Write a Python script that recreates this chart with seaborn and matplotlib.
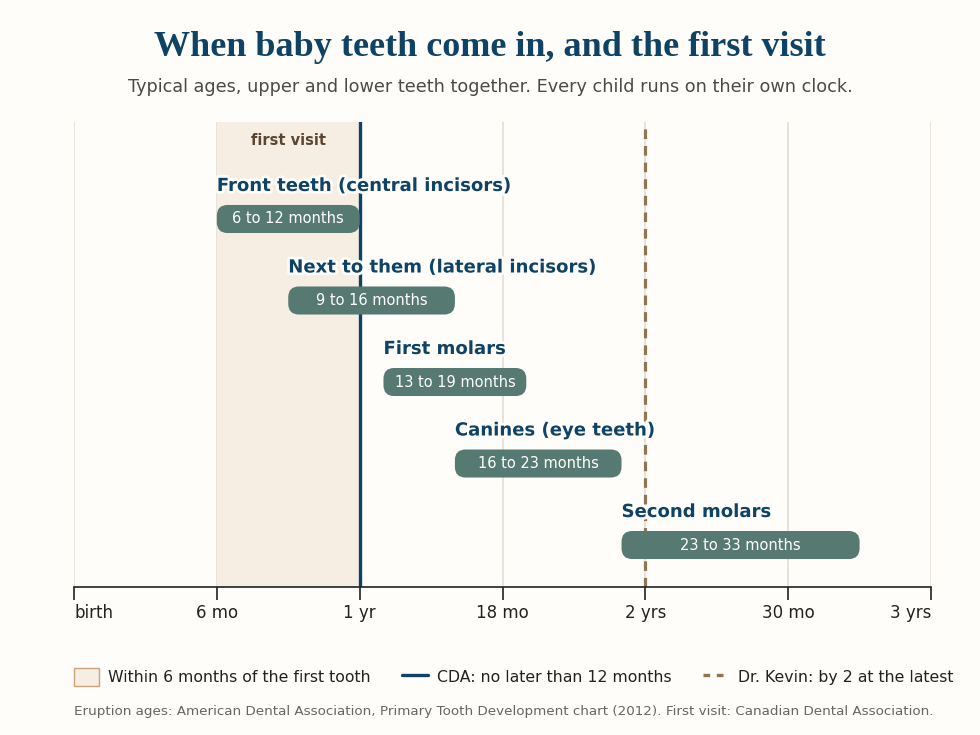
import numpy as np
import pandas as pd
import seaborn as sns
import matplotlib.pyplot as plt
from matplotlib.patches import FancyBboxPatch, Patch
from matplotlib.lines import Line2D
import matplotlib.patheffects as pe
import matplotlib.transforms as mtransforms

# data
teeth = ["Front teeth (central incisors)", "Next to them (lateral incisors)",
         "First molars", "Canines (eye teeth)", "Second molars"]
start_mo = [6, 9, 13, 16, 23]
end_mo = [12, 16, 19, 23, 33]
tick_mo = [0, 6, 12, 18, 24, 30, 36]
tick_labels = ["birth", "6 mo", "1 yr", "18 mo", "2 yrs", "30 mo", "3 yrs"]
visit_window = [6, 12]
cda_limit = 12
dentist_limit = 24

df = pd.DataFrame({"tooth": teeth, "start": start_mo, "end": end_mo})

BG = "#fefdf9"
NAVY = "#0f4366"
GREEN = "#567a71"
BAND = "#f6ede3"
BROWN = "#8f7552"
GRID = "#e6e0d6"

sns.set_theme(style="white")
plt.rcParams["font.family"] = ["DejaVu Sans"]

fig = plt.figure(figsize=(9.8, 7.35), dpi=100, facecolor=BG)
ax = fig.add_axes([74 / 980, 1 - 587 / 735, (931 - 74) / 980, (587 - 122) / 735])
ax.set_facecolor(BG)

ax.set_xlim(0, 36)
ax.set_ylim(4.515, -1.19)

# grid
for t in tick_mo:
    ax.axvline(t, color=GRID, lw=1.3, zorder=0)

ax.axvspan(visit_window[0], visit_window[1], color=BAND, zorder=0.5, lw=0)
ax.axvline(cda_limit, color=NAVY, lw=2.4, zorder=2)
ax.axvline(dentist_limit, color=BROWN, lw=2.3, ls=(0, (3, 2.2)), zorder=2)

trans = mtransforms.blended_transform_factory(ax.transData, ax.transAxes)
ax.text(np.mean(visit_window), 1 - 19 / 465, "first visit", transform=trans,
        ha="center", va="center", fontsize=10.5, fontweight="bold", color="#5a4632")

h = 0.344
halo = [pe.withStroke(linewidth=4, foreground=BG)]
for i, row in df.iterrows():
    box = FancyBboxPatch((row["start"], i - h / 2), row["end"] - row["start"], h,
                         boxstyle="round,pad=0,rounding_size=0.45",
                         mutation_aspect=0.292, facecolor=GREEN, edgecolor="none",
                         zorder=3)
    ax.add_patch(box)
    ax.text((row["start"] + row["end"]) / 2, i, f"{row['start']} to {row['end']} months",
            ha="center", va="center", color="white", fontsize=10.5, zorder=4)
    ax.text(row["start"], i - 0.405, row["tooth"], ha="left", va="center",
            fontsize=13, fontweight="bold", color=NAVY, zorder=5, path_effects=halo)

ax.set_xticks(tick_mo)
ax.set_xticklabels(tick_labels, fontsize=12, color="#222222")
tl = ax.get_xticklabels()
tl[0].set_ha("left")
tl[-1].set_ha("right")
ax.set_yticks([])
for s in ["top", "left", "right"]:
    ax.spines[s].set_visible(False)
ax.spines["bottom"].set_color("#222222")
ax.spines["bottom"].set_linewidth(1.2)
ax.tick_params(axis="x", bottom=True, length=9, width=1.2, color="#222222", pad=3)

fig.text(0.5, 1 - 48 / 735, "When baby teeth come in, and the first visit",
         ha="center", va="center", fontsize=26, fontweight="bold", color=NAVY,
         family="Liberation Serif")
fig.text(0.5, 1 - 87 / 735,
         "Typical ages, upper and lower teeth together. Every child runs on their own clock.",
         ha="center", va="center", fontsize=12.7, color="#4a4a4a")

handles = [Patch(facecolor=BAND, edgecolor="#c9a57f", lw=1),
           Line2D([], [], color=NAVY, lw=2.4),
           Line2D([], [], color=BROWN, lw=2.4, ls=(0, (2, 2)))]
labels = ["Within 6 months of the first tooth", "CDA: no later than 12 months",
          "Dr. Kevin: by 2 at the latest"]
fig.legend(handles, labels, loc="center", bbox_to_anchor=(513.5 / 980, 1 - 677 / 735), ncol=3,
           frameon=False, fontsize=11.3, handlelength=1.6, handleheight=1.4,
           columnspacing=2.0, handletextpad=0.6, labelcolor="#222222")

fig.text(74 / 980, 1 - 711 / 735,
         "Eruption ages: American Dental Association, Primary Tooth Development chart (2012). "
         "First visit: Canadian Dental Association.",
         ha="left", va="center", fontsize=9.7, color="#666666")

fig.savefig("out.png", dpi=100, facecolor=BG)
